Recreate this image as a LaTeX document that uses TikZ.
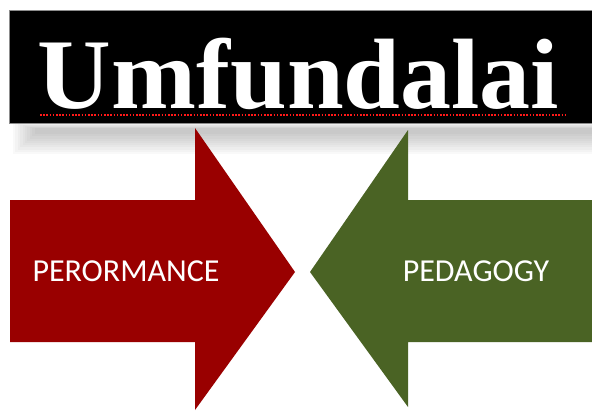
\documentclass[tikz,border=0pt]{standalone}
\usepackage{fontspec}
\usepackage{tikz}
\usepackage{tkz-euclide}
\newfontfamily\titlefont{Liberation Serif}
\newfontfamily\labelfont{Carlito}
\definecolor{perfred}{HTML}{990000}
\definecolor{pedgreen}{HTML}{4A6324}
\tikzset{
  arrowlabel/.style={text=white, font=\labelfont\fontsize{32}{32}\selectfont, anchor=base},
}

\begin{document}
\begin{tikzpicture}[x=1pt,y=-1pt]
    \useasboundingbox (0,0) rectangle (592,412);

    % banner and its shadow
    \foreach \i in {0,...,9}
      \fill[black, opacity=0.022] (13+2.4*\i,123+0.6*\i) rectangle (592,154-2.2*\i);
    \fill[black] (9,10) rectangle (592,123);
    \draw[black!45, line width=0.8pt] (592,10) -- (9,10) -- (9,123) -- (592,123);
    \node[white, font=\titlefont\bfseries\fontsize{100}{100}\selectfont, anchor=base, inner sep=0pt, xscale=1.02] (title) at (298.5,108) {Umfundalai};
    \draw[red!90!white, line width=2pt, dash pattern=on 1.5pt off 1.7pt] (40,114.5) -- (566,114.5);

    % red arrow
    \tkzDefPoint(10,200){A}
    \tkzDefPoint(195,200){B}
    \tkzDefPoint(195,128){C}
    \tkzDefPoint(295,272){D}
    \tkzDefPoint(195,410){E}
    \tkzDefPoint(195,342){F}
    \tkzDefPoint(10,342){G}
    \tkzFillPolygon[color=perfred](A,B,C,D,E,F,G)

    % green arrow
    \tkzDefPoint(592,200){A'}
    \tkzDefPoint(408,200){B'}
    \tkzDefPoint(408,130){C'}
    \tkzDefPoint(310,272){D'}
    \tkzDefPoint(408,407){E'}
    \tkzDefPoint(408,342){F'}
    \tkzDefPoint(592,342){G'}
    \tkzFillPolygon[color=pedgreen](A',B',C',D',E',F',G')

    \node[arrowlabel] (perf) at (126,281) {PERORMANCE};
    \node[arrowlabel] (ped) at (476,281) {PEDAGOGY};
\end{tikzpicture}
\end{document}
